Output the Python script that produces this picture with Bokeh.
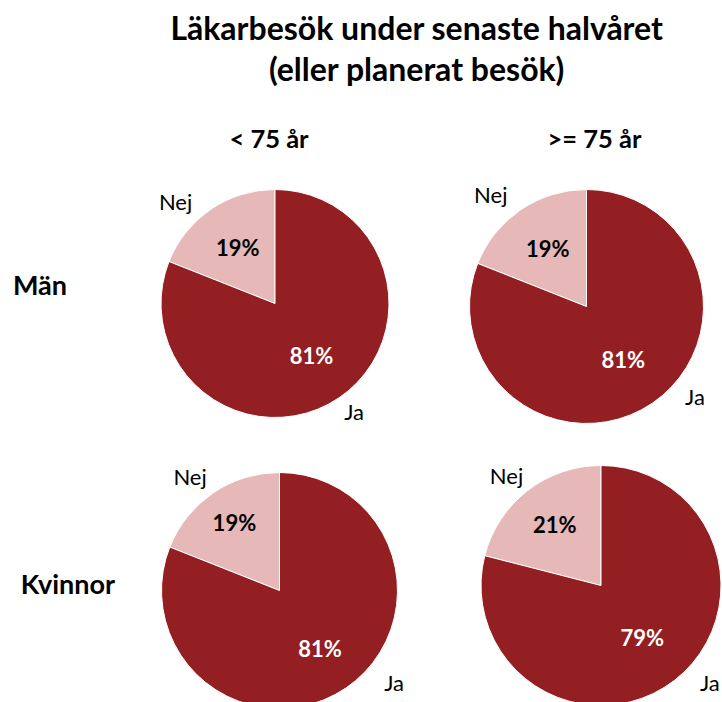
import math
from bokeh.plotting import figure
from bokeh.models import Range1d, ColumnDataSource
from bokeh.core.properties import value
from bokeh.embed import file_html
from bokeh.resources import INLINE

# ---------------- data ----------------
title_lines = ["Läkarbesök under senaste halvåret", "(eller planerat besök)"]
col_labels = ["< 75 år", ">= 75 år"]
row_labels = ["Män", "Kvinnor"]
categories = ["Nej", "Ja"]
# share (%) per panel: order = Män <75, Män >=75, Kvinnor <75, Kvinnor >=75
nej_share = [19, 19, 19, 21]
ja_share = [81, 81, 81, 79]

# ---------------- layout (screen pixels, y downwards) ----------------
W, H = 722, 702
centers = [(274.5, 303), (586, 306), (279, 590), (600.5, 585)]
radii = [114, 117, 118, 120]
inner_f = [(0.58, 0.57), (0.59, 0.56), (0.68, 0.61), (0.63, 0.56)]
outer = [((134.7, 1.24), (306, 1.18)), ((130.9, 1.25), (320, 1.21)),
         ((128.4, 1.22), (321, 1.25)), ((131, 1.2), (318, 1.22))]
col_x = [268.5, 594]
col_base = 148
row_pos = [(39.5, 295), (67.5, 594)]
title_x = 416.5
title_base = [40, 81]

DARK = "#931F22"
LIGHT = "#E6B8B7"
FONT = "Lato"
BASE_FIX = 0.42   # renderer baseline correction (fraction of font size)
CAP_MID = 0.36    # cap-height centre below baseline (fraction of font size)


def Y(ys):
    return H - ys  # screen -> data (y up)


def base_y(b, fs):
    return Y(b - BASE_FIX * fs)


def mid_y_screen(c, fs):
    return c + CAP_MID * fs


p = figure(width=W, height=H, output_backend="svg", toolbar_location=None,
           x_range=Range1d(0, W), y_range=Range1d(0, H), min_border=0)
p.axis.visible = False
p.grid.visible = False
p.outline_line_color = None
p.background_fill_color = "white"
p.border_fill_color = "white"

PCT_FS, CAT_FS = 22, 22
for i, (cx, cy) in enumerate(centers):
    vals = [nej_share[i], ja_share[i]]
    tot = sum(vals)
    a0 = math.pi / 2
    a1 = a0 + 2 * math.pi * vals[0] / tot
    a2 = a0 + 2 * math.pi
    src = ColumnDataSource(dict(x=[cx, cx], y=[Y(cy), Y(cy)], s=[a0, a1], e=[a1, a2],
                                c=[LIGHT, DARK]))
    p.wedge(x="x", y="y", radius=radii[i], start_angle="s", end_angle="e",
            fill_color="c", line_color="white", line_width=1, source=src)
    mids = [(a0 + a1) / 2, (a1 + a2) / 2]
    for k in range(2):
        f = inner_f[i][k]
        tx = cx + f * radii[i] * math.cos(mids[k])
        ty_s = cy - f * radii[i] * math.sin(mids[k])
        p.text(x=[tx], y=[base_y(mid_y_screen(ty_s, PCT_FS), PCT_FS)], text=[f"{vals[k]}%"],
               text_font=value(FONT), text_font_style="bold", text_font_size=f"{PCT_FS}px",
               text_color="black" if k == 0 else "white",
               text_align="center", text_baseline="alphabetic")
    for k in range(2):
        ang, f = outer[i][k]
        tx = cx + f * radii[i] * math.cos(math.radians(ang))
        ty_s = cy - f * radii[i] * math.sin(math.radians(ang))
        p.text(x=[tx], y=[base_y(mid_y_screen(ty_s, CAT_FS), CAT_FS)], text=[categories[k]],
               text_font=value(FONT), text_font_size=f"{CAT_FS}px", text_color="black",
               text_align="center", text_baseline="alphabetic")

TITLE_FS, COL_FS, ROW_FS = 32, 25.5, 27
for j, t in enumerate(title_lines):
    p.text(x=[title_x], y=[base_y(title_base[j], TITLE_FS)], text=[t], text_font=value(FONT),
           text_font_style="bold", text_font_size=f"{TITLE_FS}px", text_color="black",
           text_align="center", text_baseline="alphabetic")
for j, t in enumerate(col_labels):
    p.text(x=[col_x[j]], y=[base_y(col_base, COL_FS)], text=[t], text_font=value(FONT),
           text_font_style="bold", text_font_size=f"{COL_FS}px", text_color="black",
           text_align="center", text_baseline="alphabetic")
for j, t in enumerate(row_labels):
    p.text(x=[row_pos[j][0]], y=[base_y(row_pos[j][1], ROW_FS)], text=[t], text_font=value(FONT),
           text_font_style="bold", text_font_size=f"{ROW_FS}px", text_color="black",
           text_align="center", text_baseline="alphabetic")

open("out.html", "w").write(file_html(p, INLINE))
